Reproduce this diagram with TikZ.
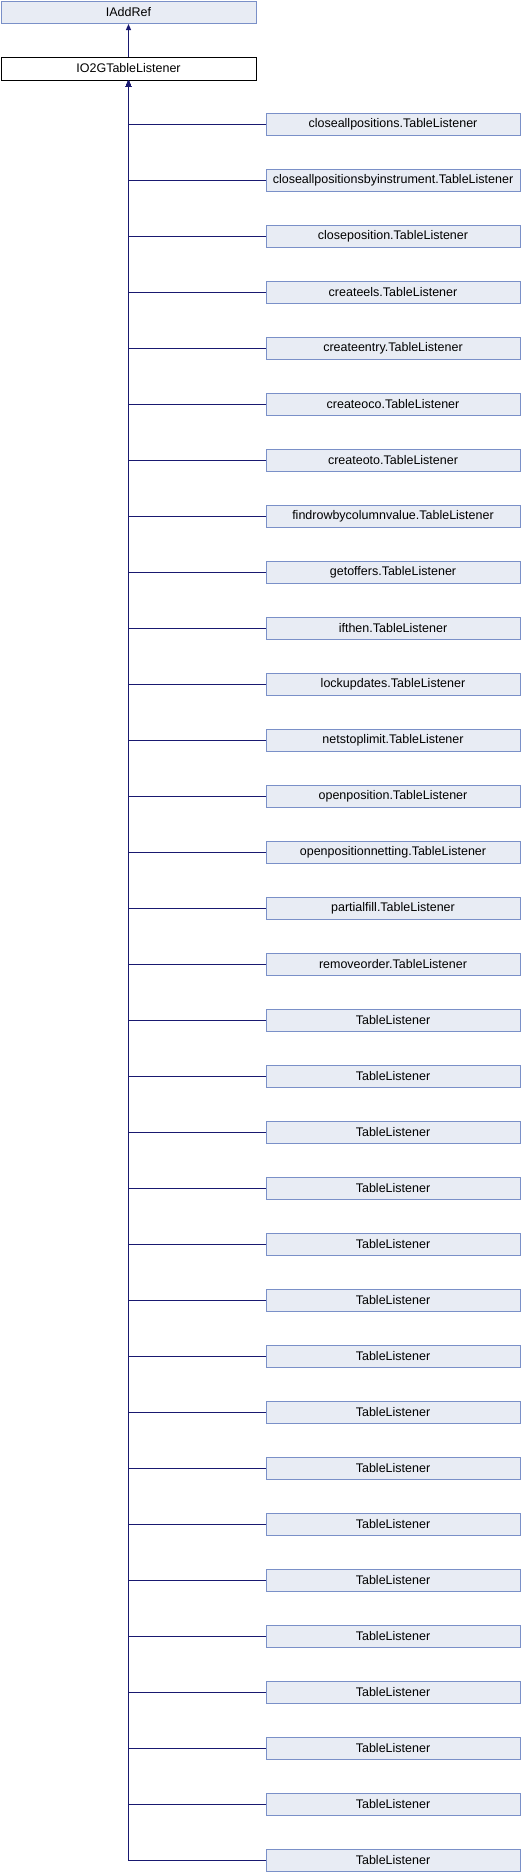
\documentclass[tikz,border=0pt]{standalone}
\usepackage{fontspec}
\setmainfont{Liberation Sans}
\usetikzlibrary{arrows.meta}
\definecolor{boxfill}{RGB}{232,236,244}
\definecolor{boxdraw}{RGB}{122,144,200}
\definecolor{edgecol}{RGB}{25,25,112}
\tikzset{
  cls/.style={draw=boxdraw, fill=boxfill, line width=1pt, inner sep=0pt, font=\fontsize{12.5pt}{14pt}\selectfont, anchor=north west, text=black},
  mainbox/.style={cls, draw=black, fill=white},
  inh/.style={draw=edgecol, line width=1pt, -{Triangle[width=5pt,length=6pt]}}
}
\begin{document}
\begin{tikzpicture}[x=1pt,y=-1pt]
\useasboundingbox (0,0) rectangle (520,1872);
\node[cls, minimum width=255pt, minimum height=22.5pt] (base) at (0.5,0.5) {IAddRef};
\node[mainbox, minimum width=255pt, minimum height=23pt] (io) at (0.5,56.5) {IO2GTableListener};
\draw[inh] (io.north) -- (base.south);
\foreach \i/\t in {0/closeallpositions.TableListener,1/closeallpositionsbyinstrument.TableListener,2/closeposition.TableListener,3/createels.TableListener,4/createentry.TableListener,5/createoco.TableListener,6/createoto.TableListener,7/findrowbycolumnvalue.TableListener,8/getoffers.TableListener,9/ifthen.TableListener,10/lockupdates.TableListener,11/netstoplimit.TableListener,12/openposition.TableListener,13/openpositionnetting.TableListener,14/partialfill.TableListener,15/removeorder.TableListener,16/TableListener,17/TableListener,18/TableListener,19/TableListener,20/TableListener,21/TableListener,22/TableListener,23/TableListener,24/TableListener,25/TableListener,26/TableListener,27/TableListener,28/TableListener,29/TableListener,30/TableListener,31/TableListener}{
  \node[cls, minimum width=254pt, minimum height=22.5pt] (c\i) at (265.5,{112.5+56*\i}) {\t};
  \draw[inh] (c\i.west) -| (io.south);
}
\end{tikzpicture}
\end{document}
